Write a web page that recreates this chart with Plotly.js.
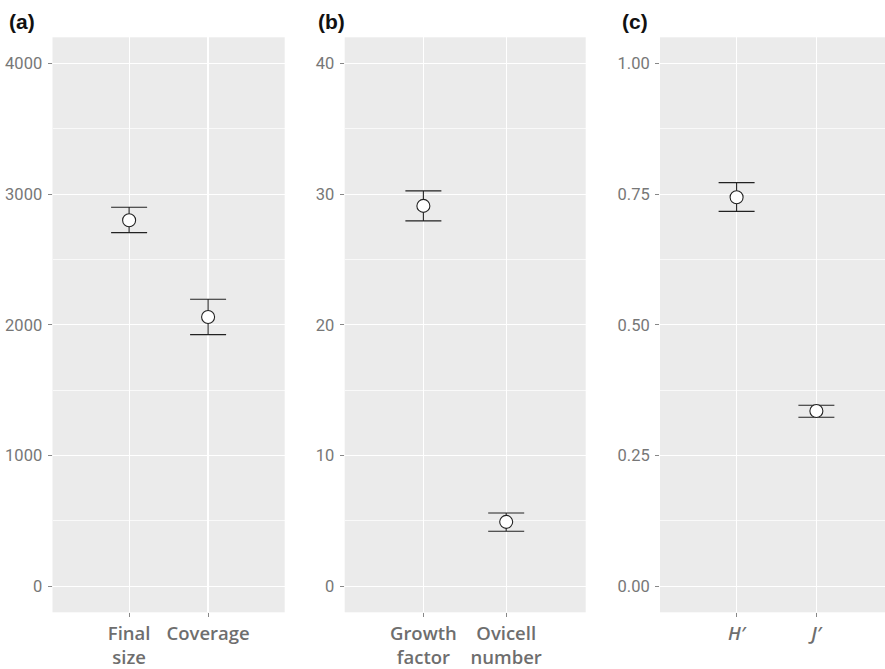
<!DOCTYPE html>
<html>
<head>
<meta charset="utf-8">
<script src="https://cdn.plot.ly/plotly-3.0.1.min.js"></script>
<style>html,body{margin:0;padding:0;background:#fff;}#chart{width:885px;height:669px;}</style>
</head>
<body>
<div id="chart"></div>
<script>
// Panel (a)
var catsA = ["Final<br>size", "Coverage"];
var meanA = [2800, 2060];
var upperA = [2900, 2195];
var lowerA = [2705, 1925];
var ticksA = [0, 1000, 2000, 3000, 4000];
var tickTextA = ["0", "1000", "2000", "3000", "4000"];

// Panel (b)
var catsB = ["Growth<br>factor", "Ovicell<br>number"];
var meanB = [29.1, 4.92];
var upperB = [30.25, 5.6];
var lowerB = [27.95, 4.2];
var ticksB = [0, 10, 20, 30, 40];
var tickTextB = ["0", "10", "20", "30", "40"];

// Panel (c)
var catsC = ["<i>H′</i>", "<i>J′</i>"];
var meanC = [0.744, 0.335];
var upperC = [0.772, 0.346];
var lowerC = [0.717, 0.323];
var ticksC = [0, 0.25, 0.5, 0.75, 1.0];
var tickTextC = ["0.00", "0.25", "0.50", "0.75", "1.00"];

var panelLabels = ["(a)", "(b)", "(c)"];

function mkTrace(cats, mean, up, lo, xa, ya) {
  return {
    type: "scatter", mode: "markers",
    x: cats, y: mean, xaxis: xa, yaxis: ya,
    marker: {symbol: "circle", size: 13, color: "#ffffff", line: {color: "#222222", width: 1.1}},
    error_y: {type: "data", symmetric: false,
      array: up.map(function(u, i){ return u - mean[i]; }),
      arrayminus: lo.map(function(l, i){ return mean[i] - l; }),
      color: "#222222", thickness: 1.1, width: 18},
    showlegend: false, hoverinfo: "none"
  };
}

var data = [
  mkTrace(catsA, meanA, upperA, lowerA, "x", "y"),
  mkTrace(catsB, meanB, upperB, lowerB, "x2", "y2"),
  mkTrace(catsC, meanC, upperC, lowerC, "x3", "y3")
];

var W = 885, H = 669;
var yDom = [(H - 612.3) / H, (H - 37.3) / H];
var tickFontY = {family: "Roboto, 'Liberation Sans', sans-serif", size: 16.5, color: "#777777"};
var tickFontX = {family: "'Open Sans', sans-serif", size: 18.5, color: "#6e6e6e", weight: 600};

function xAxis(dom, rng, cats) {
  return {domain: dom, type: "category", categoryarray: cats, range: rng,
    showgrid: true, gridcolor: "#ffffff", gridwidth: 1.2, zeroline: false, showline: false,
    ticks: "outside", ticklen: 4, tickwidth: 1, tickcolor: "#888888",
    tickfont: tickFontX, fixedrange: true};
}
function yAxis(anchor, rng, tv, tt, minorD) {
  return {domain: yDom, anchor: anchor, range: rng, tickvals: tv, ticktext: tt,
    showgrid: true, gridcolor: "#ffffff", gridwidth: 1.2, zeroline: false, showline: false,
    ticks: "outside", ticklen: 4, tickwidth: 1, tickcolor: "#888888",
    tickfont: tickFontY, ticklabelstandoff: 2,
    minor: {dtick: minorD, tick0: 0, showgrid: true, gridcolor: "#ffffff", gridwidth: 0.7, ticks: ""},
    fixedrange: true};
}

var layout = {
  width: W, height: H,
  margin: {l: 0, r: 0, t: 0, b: 0},
  paper_bgcolor: "#ffffff", plot_bgcolor: "#EBEBEB",
  showlegend: false,
  xaxis: xAxis([52.5 / W, 284.7 / W], [-0.97, 1.97], catsA),
  xaxis2: Object.assign(xAxis([344.7 / W, 585.7 / W], [-0.95, 1.96], catsB), {anchor: "y2"}),
  xaxis3: Object.assign(xAxis([660 / W, 1], [-0.96, 1.86], catsC), {anchor: "y3"}),
  yaxis: yAxis("x", [-200, 4200], ticksA, tickTextA, 500),
  yaxis2: yAxis("x2", [-2, 42], ticksB, tickTextB, 5),
  yaxis3: yAxis("x3", [-0.05, 1.05], ticksC, tickTextC, 0.125),
  annotations: [
    {text: "<b>" + panelLabels[0] + "</b>", x: 7 / W, y: (H - 22) / H},
    {text: "<b>" + panelLabels[1] + "</b>", x: 316 / W, y: (H - 22) / H},
    {text: "<b>" + panelLabels[2] + "</b>", x: 619.5 / W, y: (H - 22) / H}
  ].map(function(a){
    return Object.assign(a, {xref: "paper", yref: "paper", xanchor: "left", yanchor: "middle",
      showarrow: false, font: {family: "'Liberation Sans', Arial, sans-serif", size: 21, color: "#111111"}});
  })
};

Plotly.newPlot("chart", data, layout, {displayModeBar: false, staticPlot: true});
</script>
</body>
</html>
